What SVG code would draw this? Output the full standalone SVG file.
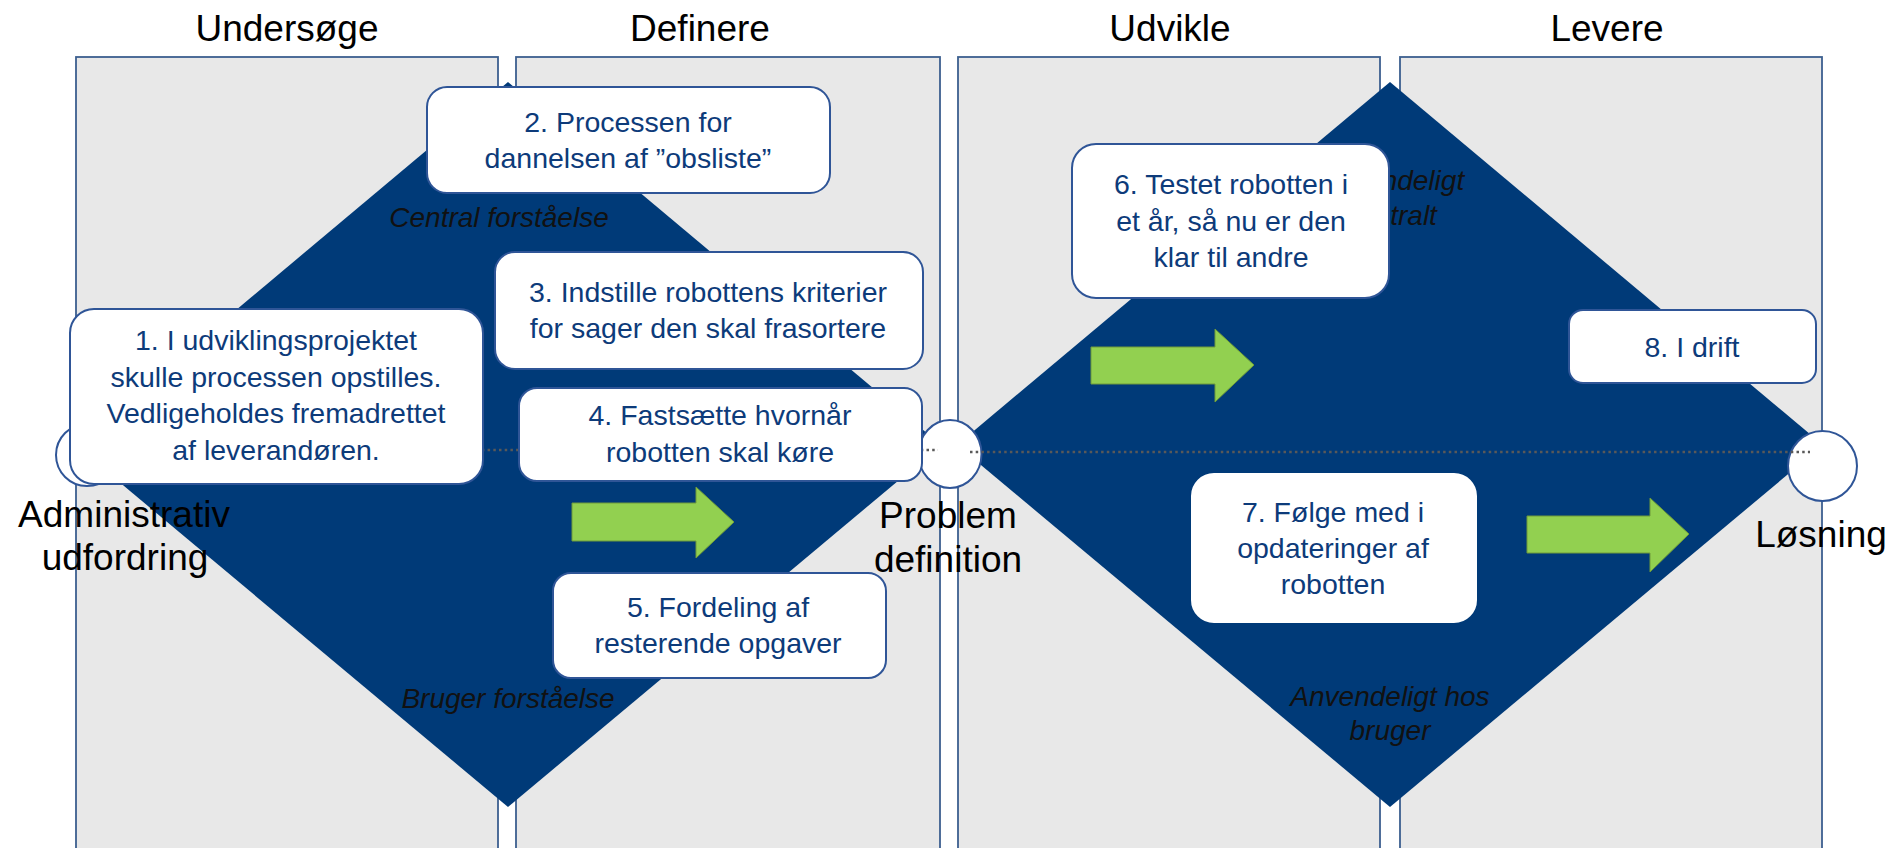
<svg xmlns="http://www.w3.org/2000/svg" width="1893" height="848" viewBox="0 0 1893 848">
  <style>
    .panel { fill: #e8e8e8; stroke: #3c5f8f; stroke-width: 1.8; }
    .diamond { fill: #003a78; }
    .box { fill: #ffffff; stroke: #2f5597; stroke-width: 2; }
    .btxt { font-family: "Liberation Sans", Arial, sans-serif; font-size: 28.5px; fill: #0d3b7a; text-anchor: middle; }
    .ital { font-family: "Liberation Sans", Arial, sans-serif; font-size: 28px; font-style: italic; fill: #111111; text-anchor: middle; }
    .big { font-family: "Liberation Sans", Arial, sans-serif; font-size: 37px; fill: #000000; text-anchor: middle; }
    .circ { fill: #ffffff; stroke: #2f5597; stroke-width: 2; }
    .dots { stroke: #595959; stroke-width: 2.5; stroke-dasharray: 2.5 3.2; fill: none; }
    .garrow { fill: #92d050; stroke: #6f9a3a; stroke-width: 1; }
  </style>
  <rect width="1893" height="848" fill="#ffffff"/>

  <g id="panels">
    <rect class="panel" x="76" y="57" width="422" height="800"/>
    <rect class="panel" x="516" y="57" width="424" height="800"/>
    <rect class="panel" x="958" y="57" width="422" height="800"/>
    <rect class="panel" x="1400" y="57" width="422" height="800"/>
  </g>

  <g id="titles">
    <text class="big" x="287" y="41">Undersøge</text>
    <text class="big" x="700" y="41">Definere</text>
    <text class="big" x="1170" y="41">Udvikle</text>
    <text class="big" x="1607" y="41">Levere</text>
  </g>

  <g id="diamond-left">
    <polygon class="diamond" points="508,82 941,445 508,807 75,445"/>
    <text class="ital" x="499" y="227">Central forståelse</text>
    <text class="ital" x="508" y="708">Bruger forståelse</text>
  </g>

  <g id="diamond-right">
    <polygon class="diamond" points="1390,82 1823,445 1390,807 957,445"/>
    <text class="ital" x="1391" y="190">Anvendeligt</text>
    <text class="ital" x="1391" y="225">centralt</text>
    <text class="ital" x="1390" y="706">Anvendeligt hos</text>
    <text class="ital" x="1390" y="740">bruger</text>
  </g>

  <g id="node-administrativ">
    <circle class="circ" cx="87" cy="455" r="31"/>
    <text class="big" x="124" y="527">Administrativ</text>
    <text class="big" x="125" y="570">udfordring</text>
  </g>

  <g id="node-problem">
    <ellipse class="circ" cx="950" cy="454" rx="31.5" ry="34"/>
    <text class="big" x="948" y="528">Problem</text>
    <text class="big" x="948" y="572">definition</text>
  </g>

  <g id="node-losning">
    <ellipse class="circ" cx="1822.5" cy="466" rx="34.5" ry="35"/>
    <text class="big" x="1821" y="547">Løsning</text>
  </g>

  <g id="connectors">
    <line class="dots" x1="100" y1="450" x2="938" y2="450"/>
    <line class="dots" x1="970" y1="452" x2="1810" y2="452"/>
  </g>

  <g id="box1">
    <rect class="box" x="70" y="309" width="413" height="175" rx="24"/>
    <text class="btxt" x="276" y="350">1. I udviklingsprojektet</text>
    <text class="btxt" x="276" y="387">skulle processen opstilles.</text>
    <text class="btxt" x="276" y="423">Vedligeholdes fremadrettet</text>
    <text class="btxt" x="276" y="460">af leverandøren.</text>
  </g>

  <g id="box2">
    <rect class="box" x="427" y="87" width="403" height="106" rx="20"/>
    <text class="btxt" x="628" y="132">2. Processen for</text>
    <text class="btxt" x="628" y="168">dannelsen af ”obsliste”</text>
  </g>

  <g id="box3">
    <rect class="box" x="495" y="252" width="428" height="117" rx="20"/>
    <text class="btxt" x="708" y="302">3. Indstille robottens kriterier</text>
    <text class="btxt" x="708" y="338">for sager den skal frasortere</text>
  </g>

  <g id="box4">
    <rect class="box" x="519" y="388" width="403" height="93" rx="18"/>
    <text class="btxt" x="720" y="425">4. Fastsætte hvornår</text>
    <text class="btxt" x="720" y="462">robotten skal køre</text>
  </g>

  <g id="box5">
    <rect class="box" x="553" y="573" width="333" height="105" rx="18"/>
    <text class="btxt" x="718" y="617">5. Fordeling af</text>
    <text class="btxt" x="718" y="653">resterende opgaver</text>
  </g>

  <g id="box6">
    <rect class="box" x="1072" y="144" width="317" height="154" rx="24"/>
    <text class="btxt" x="1231" y="194">6. Testet robotten i</text>
    <text class="btxt" x="1231" y="231">et år, så nu er den</text>
    <text class="btxt" x="1231" y="267">klar til andre</text>
  </g>

  <g id="box7">
    <rect class="box" x="1190" y="472" width="288" height="152" rx="24" style="stroke:#003a78"/>
    <text class="btxt" x="1333" y="522">7. Følge med i</text>
    <text class="btxt" x="1333" y="558">opdateringer af</text>
    <text class="btxt" x="1333" y="594">robotten</text>
  </g>

  <g id="box8">
    <rect class="box" x="1569" y="310" width="247" height="73" rx="14"/>
    <text class="btxt" x="1692" y="357">8. I drift</text>
  </g>

  <g id="arrows">
    <polygon class="garrow" points="572,503 696,503 696,487 734,522 696,558 696,541 572,541"/>
    <polygon class="garrow" points="1091,347 1215,347 1215,329 1254,365 1215,402 1215,384 1091,384"/>
    <polygon class="garrow" points="1527,516 1650,516 1650,498 1689,534 1650,572 1650,553 1527,553"/>
  </g>
</svg>
